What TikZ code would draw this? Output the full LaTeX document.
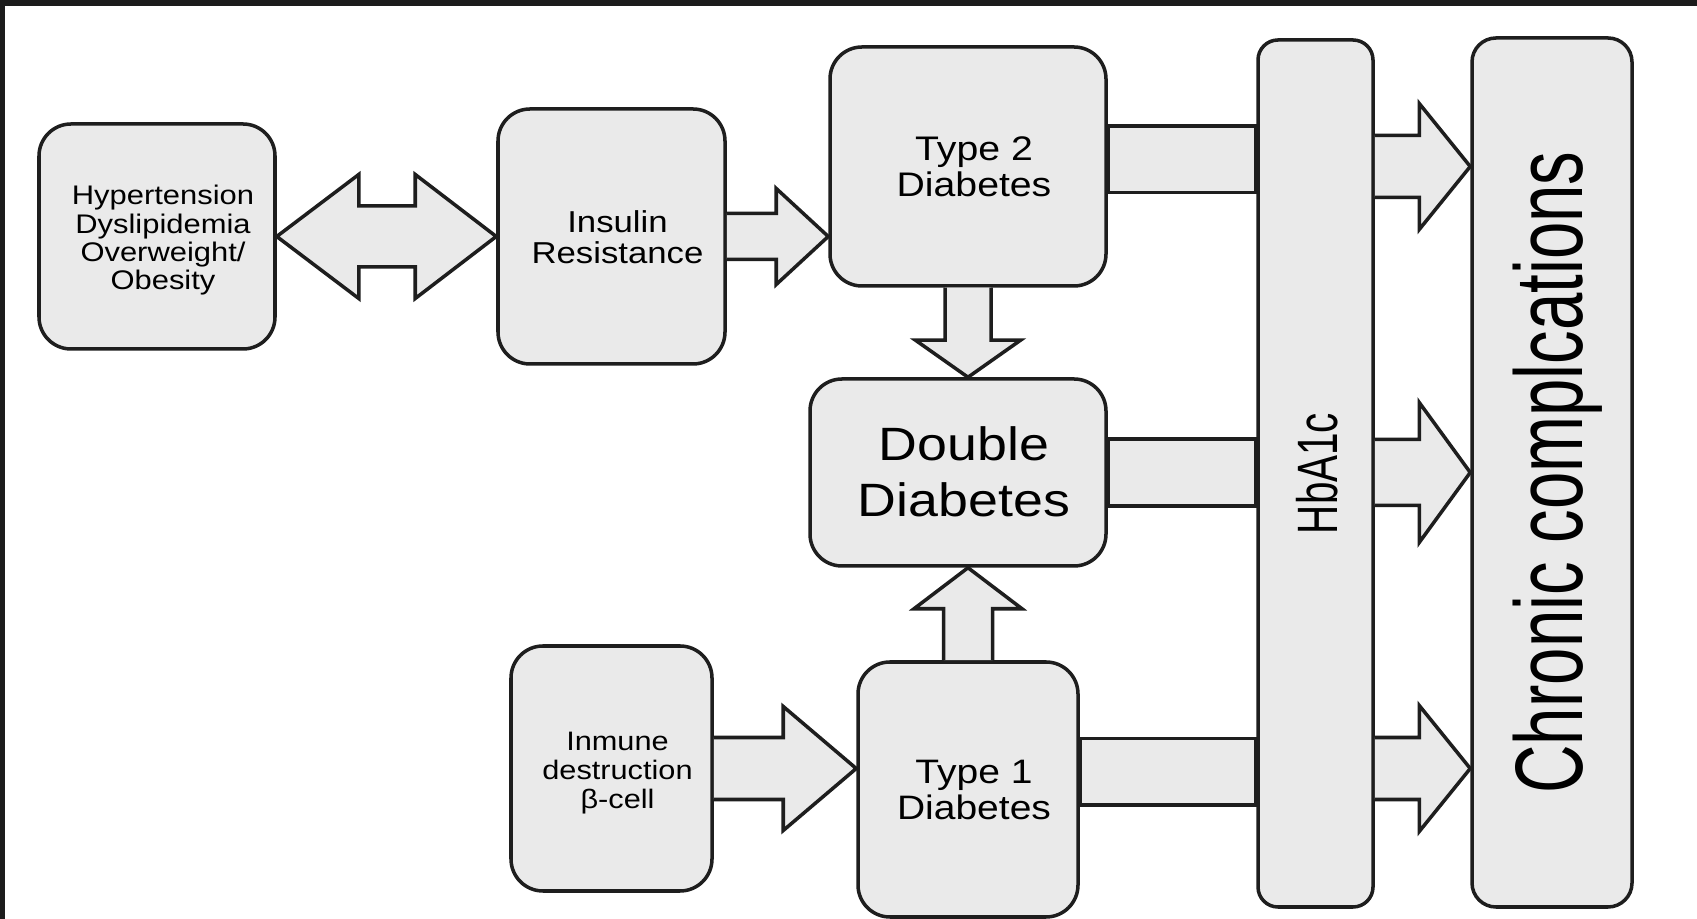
\documentclass[tikz,border=0pt]{standalone}
\usepackage{fontspec}
\setmainfont{Liberation Sans}
\usepackage{graphicx}
\usetikzlibrary{calc}

\definecolor{boxgray}{RGB}{234,234,234}
\definecolor{edge}{RGB}{30,30,30}
\definecolor{frame}{RGB}{28,28,28}

% horizontal box text: size, leading, lines
\newcommand{\wtext}[3]{\fontsize{#1}{#2}\selectfont\raisebox{-0.05cm}[\height][\depth]{\hspace*{0.06cm}%
  \scalebox{1.15}[1]{\begin{tabular}{@{}c@{}}#3\end{tabular}}\hspace*{-0.06cm}}}
% vertical box text: size, squeeze, text, shift to the right
\newcommand{\vtext}[4]{\fontsize{#1}{#1}\selectfont\rotatebox{90}{\raisebox{-#4}[\height][\depth]{\scalebox{#2}[1]{#3}}}}
% block arrow: tail, tip, half shaft, half head, head length
\newcommand{\blockarrow}[5]{%
  \coordinate (ba-t) at (#1);
  \coordinate (ba-h) at (#2);
  \coordinate (ba-b) at ($(ba-h)!#5!(ba-t)$);
  \draw[blk] ($(ba-t)!#3!90:(ba-h)$) -- ($(ba-b)!#3!90:(ba-h)$) -- ($(ba-b)!#4!90:(ba-h)$) -- (ba-h)
    -- ($(ba-b)!#4!-90:(ba-h)$) -- ($(ba-b)!#3!-90:(ba-h)$) -- ($(ba-t)!#3!-90:(ba-h)$);}

\begin{document}
\begin{tikzpicture}[x=1cm,y=-1cm,
  box/.style={draw=edge,fill=boxgray,line width=1pt,rounded corners=0.32cm,align=center,inner sep=0pt},
  tallbox/.style={box,rounded corners=0.24cm},
  blk/.style={draw=edge,fill=boxgray,line width=1pt},
  bar/.style={draw=edge,fill=boxgray,line width=1.1pt}]
	\useasboundingbox (0,0) rectangle (16.97,9.19);
	\fill[white] (0,0) rectangle (16.97,9.19);
	\fill[frame] (0,0) rectangle (16.97,0.06);
	\fill[frame] (0,0) rectangle (0.05,9.19);
	%
	\node[box,minimum width=2.36cm,minimum height=2.25cm] (hyper) at (1.57,2.365)
		{\wtext{7.65}{8}{Hypertension\\Dyslipidemia\\Overweight/\\Obesity}};
	\node[box,minimum width=2.27cm,minimum height=2.55cm] (insulin) at (6.115,2.365)
		{\wtext{8.6}{8.8}{Insulin\\Resistance}};
	\node[box,minimum width=2.76cm,minimum height=2.39cm] (type2) at (9.68,1.665)
		{\wtext{9.7}{10.2}{Type 2\\Diabetes}};
	\node[box,minimum width=2.96cm,minimum height=1.87cm] (double) at (9.58,4.725)
		{\wtext{13.3}{15.9}{Double\\Diabetes}};
	\node[box,minimum width=2.01cm,minimum height=2.45cm] (immune) at (6.115,7.685)
		{\wtext{7.6}{8.25}{Inmune\\destruction\\β-cell}};
	\node[box,minimum width=2.20cm,minimum height=2.55cm] (type1) at (9.68,7.895)
		{\wtext{9.65}{10.2}{Type 1\\Diabetes}};
	\node[tallbox,minimum width=1.15cm,minimum height=8.67cm,rounded corners=0.2cm] (hba) at (13.155,4.735)
		{\vtext{16.2}{0.71}{HbA1c}{0.02cm}};
	\node[tallbox,minimum width=1.60cm,minimum height=8.69cm] (chronic) at (15.52,4.725)
		{\vtext{27.3}{0.70}{Chronic complcations}{0.06cm}};
	%
	\draw[blk] (hyper.east) -- ($(hyper.east)+(0.82,-0.62)$) -- ($(hyper.east)+(0.82,-0.305)$)
		-- ($(insulin.west)+(-0.81,-0.305)$) -- ($(insulin.west)+(-0.81,-0.62)$) -- (insulin.west)
		-- ($(insulin.west)+(-0.81,0.62)$) -- ($(insulin.west)+(-0.81,0.305)$)
		-- ($(hyper.east)+(0.82,0.305)$) -- ($(hyper.east)+(0.82,0.62)$) -- cycle;
	\blockarrow{insulin.east}{type2.west |- insulin.east}{0.23cm}{0.48cm}{0.52cm}
	\blockarrow{type2.south}{type2.south |- double.north}{0.23cm}{0.525cm}{0.37cm}
	\blockarrow{type1.north}{type1.north |- double.south}{0.245cm}{0.54cm}{0.41cm}
	\blockarrow{immune.east}{type1.west |- immune.east}{0.31cm}{0.62cm}{0.73cm}
	%
	\draw[bar] ($(type2.east)+(0,-0.405)$) rectangle ($(hba.west |- type2.east)+(0,0.26)$);
	\draw[bar] ($(double.east)+(0,-0.335)$) rectangle ($(hba.west |- double.east)+(0,0.335)$);
	\draw[bar] ($(type1.east |- immune.east)+(0,-0.30)$) rectangle ($(hba.west |- immune.east)+(0,0.365)$);
	%
	\blockarrow{hba.east |- type2.east}{chronic.west |- type2.east}{0.31cm}{0.63cm}{0.51cm}
	\blockarrow{hba.east |- double.east}{chronic.west |- double.east}{0.33cm}{0.70cm}{0.51cm}
	\blockarrow{hba.east |- immune.east}{chronic.west |- immune.east}{0.31cm}{0.63cm}{0.51cm}
\end{tikzpicture}
\end{document}
